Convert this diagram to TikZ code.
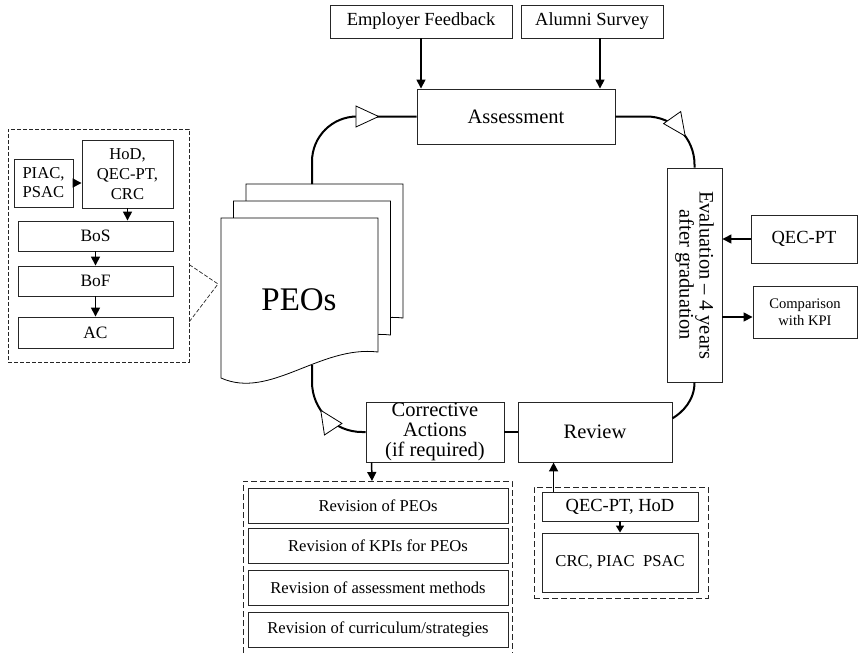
\documentclass[tikz,border=0pt]{standalone}
\usepackage{fontspec}
\setmainfont{Liberation Serif}
\usetikzlibrary{arrows.meta,calc,decorations.markings}
\tikzset{Box/.style={%
    shape=rectangle,%
    draw=black!85,%
    fill=white,%
    line width=0.9pt,%
    inner sep=0pt,%
    align=center,%
}}
\tikzset{CycleBox/.style={%
    Box,%
    font=\fontsize{20.5}{20}\selectfont,%
}}
\tikzset{InputBox/.style={%
    Box,%
    font=\fontsize{18.5}{20}\selectfont,%
}}
\tikzset{ListBox/.style={%
    Box,%
    font=\fontsize{16.6}{19}\selectfont,%
}}
\tikzset{GroupBox/.style={%
    shape=rectangle,%
    draw=black!85,%
    line width=0.8pt,%
    dash pattern=on 6pt off 3pt,%
    inner sep=0pt,%
}}
\tikzset{GroupLine/.style={%
    draw=black!85,%
    line width=0.7pt,%
    dash pattern=on 4pt off 2pt,%
}}
\tikzset{Page/.style={%
    draw=black,%
    fill=white,%
    line width=0.8pt,%
}}
\tikzset{FlowArrow/.style={%
    -{Triangle[length=9pt,width=9pt]},%
    line width=1.5pt,%
}}
\tikzset{CycleEdge/.style={%
    line width=2pt,%
}}
\tikzset{TriMark/.style={%
    postaction=decorate,%
    decoration={markings,%
        mark=at position #1 with {\pgfsetcornersarced{\pgfpointorigin}%
            \arrow{Triangle[length=24pt,width=22pt,fill=white,line width=0.8pt]}}},%
}}

\begin{document}
\begin{tikzpicture}[x=1pt,y=-1pt]
    \path[use as bounding box, fill=white] (0,0) rectangle (858,653);

    % PEOs document stack
    \foreach \d in {2,1,0} {
        \draw[Page, shift={(12.5*\d,-17*\d)}] (221,218) -- (378,218) -- (378,352)
            .. controls (320,345) and (270,400) .. (221,378) -- cycle;
    }
    \node[font=\fontsize{33}{33}\selectfont] (peo) at (299,300) {PEOs};
    \coordinate (peoTop) at (312,184);
    \coordinate (peoBot) at (312,365);
    \coordinate (peoLeft) at (218,284);

    % inputs and cycle
    \node[InputBox, minimum width=182pt, minimum height=33pt] (emp) at (421,21.5) {Employer Feedback};
    \node[InputBox, minimum width=142pt, minimum height=33pt] (alum) at (592,21.5) {Alumni Survey};
    \node[CycleBox, minimum width=198pt, minimum height=55pt] (asm) at (516,116.5) {Assessment};
    \node[CycleBox, minimum width=55pt, minimum height=214pt] (evl) at (694.5,275) {};
    \node[rotate=-90, font=\fontsize{20.5}{20}\selectfont, align=center] (evlText) at (evl.center)
        {Evaluation -- 4 years\\after graduation};
    \node[InputBox, minimum width=106pt, minimum height=48pt] (qec) at (804,239) {QEC-PT};
    \node[Box, font=\fontsize{14.6}{17}\selectfont, minimum width=104pt, minimum height=52pt] (kpi) at (805,312)
        {Comparison\\with KPI};
    \node[CycleBox, minimum width=154pt, minimum height=60pt] (rev) at (595,432) {Review};
    \node[CycleBox, minimum width=138pt, minimum height=60pt] (cor) at (435,432)
        {Corrective\\Actions\\(if required)};

    % review group
    \node[GroupBox, minimum width=174pt, minimum height=111pt] (grpR) at (621,542.5) {};
    \node[InputBox, minimum width=156pt, minimum height=29pt] (qh) at (620,506.5) {QEC-PT, HoD};
    \node[ListBox, minimum width=156pt, minimum height=59pt] (cpp) at (620,562.5) {CRC, PIAC~~PSAC};

    % corrective actions group
    \draw[GroupBox] (243,653) |- (512,481) -- (512,653);
    \coordinate (revTop) at (372,481);
    \foreach \y/\t [count=\i] in {505.5/{Revision of PEOs}, 545.5/{Revision of KPIs for PEOs},
        588/{Revision of assessment methods}, 629.5/{Revision of curriculum/strategies}} {
        \node[ListBox, minimum width=260pt, minimum height=35pt] (rv\i) at (378,\y) {\t};
    }

    % approval group
    \node[GroupBox, GroupLine, minimum width=181pt, minimum height=233pt] (grpL) at (98.5,245.5) {};
    \node[ListBox, minimum width=59pt, minimum height=48pt] (pp) at (43.5,183) {PIAC,\\PSAC};
    \node[ListBox, font=\fontsize{16.6}{20}\selectfont, minimum width=91pt, minimum height=68pt] (hqc) at (127.5,174)
        {HoD,\\QEC-PT,\\CRC};
    \node[ListBox, font=\fontsize{17.4}{19}\selectfont, minimum width=155pt, minimum height=30pt] (bos) at (95.5,236) {BoS};
    \node[ListBox, font=\fontsize{17.4}{19}\selectfont, minimum width=155pt, minimum height=30pt] (bof) at (95.5,281) {BoF};
    \node[ListBox, font=\fontsize{17.4}{19}\selectfont, minimum width=155pt, minimum height=31pt] (ac) at (95.5,332.5) {AC};
    \draw[GroupLine] ($(grpL.north east)+(0,136)$) -- (peoLeft) -- ($(grpL.north east)+(0,193)$);

    % cycle connectors
    \draw[CycleEdge, rounded corners=45pt, TriMark=-37pt] (peoTop) |- (asm.west);
    \draw[CycleEdge, rounded corners=48pt, TriMark=77pt] (asm.east) -| (evl.north);
    \draw[CycleEdge] (evl.south) .. controls +(0,18) and +(10,-6) .. (rev.10);
    \draw[CycleEdge] (rev.west) -- (cor.east);
    \draw[CycleEdge, rounded corners=50pt, TriMark=53pt] (cor.west) -| (peoBot);

    % arrows
    \draw[FlowArrow] (emp.south) -- (emp.south |- asm.north);
    \draw[FlowArrow] ($(alum.south)+(8,0)$) -- ($(alum.south |- asm.north)+(8,0)$);
    \draw[FlowArrow] (qec.west) -- (qec.west -| evl.east);
    \draw[FlowArrow] ($(kpi.west -| evl.east)+(0,5)$) -- ($(kpi.west)+(0,5)$);
    \draw[FlowArrow] ($(qh.north west)+(12,0)$) -- ($(qh.north west |- rev.south)+(12,0)$);
    \path (qh) edge[FlowArrow, -{Triangle[length=7pt,width=8pt]}] (cpp);
    \draw[FlowArrow] ($(cor.south west)+(6,0)$) -- (revTop);
    \draw[FlowArrow] (pp.east) -- (pp.east -| hqc.west);
    \draw[FlowArrow] (hqc.south) -- (hqc.south |- bos.north);
    \path (bos) edge[FlowArrow] (bof);
    \path (bof) edge[FlowArrow] (ac);
\end{tikzpicture}
\end{document}
